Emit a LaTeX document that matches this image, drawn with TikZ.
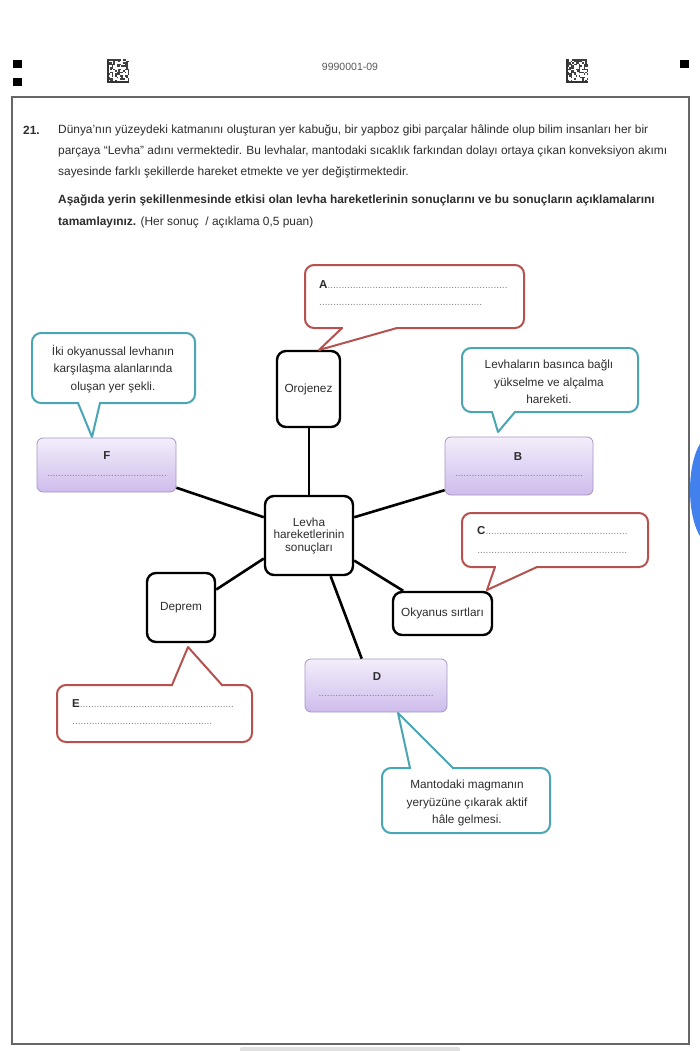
\documentclass[tikz,border=0pt]{standalone}
\usepackage{fontspec}
\setmainfont{Liberation Sans}
\usetikzlibrary{positioning}
\definecolor{callred}{RGB}{181,82,79}
\definecolor{callteal}{RGB}{74,165,181}
\definecolor{lvtop}{RGB}{243,238,251}
\definecolor{lvbot}{RGB}{206,188,236}
\definecolor{lvedge}{RGB}{165,150,195}
\definecolor{gblue}{RGB}{66,128,238}
\definecolor{yazi}{RGB}{45,45,45}
\newcommand{\blankline}[1]{\hbox to #1{\color{gray}\xleaders\hbox{.}\hfill}}
\tikzset{
sonuc/.style={draw, line width=2.4pt, rounded corners=9pt, fill=white, align=center, text=yazi,
  font=\fontsize{11.8}{12.5}\selectfont, inner sep=0pt},
cevap/.style={draw=lvedge, line width=0.8pt, rounded corners=6pt, top color=lvtop, bottom color=lvbot, inner sep=0pt},
balon/.style={draw=#1, line width=2pt, rounded corners=9pt, fill=white, inner sep=0pt},
bag/.style={line width=2.6pt},
kuyruk/.style={draw=#1, line width=2pt, line join=round},
metin/.style={anchor=west, inner sep=0pt, text=yazi, font=\fontsize{11.9}{13}\selectfont},
acik/.style={align=center, inner sep=0pt, text=yazi, font=\fontsize{11.8}{17.5}\selectfont},
harf/.style={anchor=center, inner sep=0pt, text=yazi, font=\bfseries\fontsize{11.5}{12}\selectfont},
nokta/.style={anchor=west, inner sep=0pt, font=\fontsize{10}{12}\selectfont},
}
\begin{document}
\begin{tikzpicture}[x=1pt,y=1pt,yscale=-1]
\useasboundingbox (0,0) rectangle (700,1051);
\fill[white] (0,0) rectangle (700,1051);
%Shape: page marks
\fill (13,60) rectangle (22,68);
\fill (13,78) rectangle (22,86);
\fill (680,60) rectangle (689,68);
%Shape: codes
\pgfmathsetseed{21}
\foreach \qx in {107,566}{
  \foreach \i in {0,...,13}{
    \foreach \j in {0,...,14}{
      \pgfmathtruncatemacro\qrbit{(rnd>0.5)}
      \ifnum\qrbit=1 \fill[black!75] (\qx+\i*1.6,59+\j*1.6) rectangle ++(1.6,1.6); \fi
    }
  }
  \fill[black!80] (\qx,59) rectangle ++(1.6,24);
  \fill[black!80] (\qx,81.4) rectangle ++(22.4,1.6);
}
% Text Node
\node[inner sep=0pt, text=black!65, font=\fontsize{10.5}{11}\selectfont] (kod) at (350,67) {9990001-09};
%Shape: Rectangle frame
\draw[black!60, line width=1.2pt] (12,97) rectangle (689,1044);
\fill[gblue] (712,490) ellipse [x radius=22, y radius=55];
\fill[black!12, rounded corners=2pt] (240,1047) rectangle (460,1056);

% Text Node
\node[metin, font=\bfseries\fontsize{11.9}{13}\selectfont] (s21) at (23,130) {21.};
\node[metin] (p1) at (58,130) {Dünya’nın yüzeydeki katmanını oluşturan yer kabuğu, bir yapboz gibi parçalar hâlinde olup bilim insanları her bir};
\node[metin] (p2) at (58,151) {parçaya “Levha” adını vermektedir. Bu levhalar, mantodaki sıcaklık farkından dolayı ortaya çıkan konveksiyon akımı};
\node[metin] (p3) at (58,172) {sayesinde farklı şekillerde hareket etmekte ve yer değiştirmektedir.};
\node[metin, font=\bfseries\fontsize{11.9}{13}\selectfont] (q1) at (58,200) {Aşağıda yerin şekillenmesinde etkisi olan levha hareketlerinin sonuçlarını ve bu sonuçların açıklamalarını};
\node[metin] (q2) at (58,222) {\textbf{tamamlayınız.} (Her sonuç~ / açıklama 0,5 puan)};

%Shape: result boxes
\node[sonuc, minimum width=88pt, minimum height=79pt] (merkez) at (309,535.5) {Levha\\hareketlerinin\\sonuçları};
\node[sonuc, minimum width=63pt, minimum height=76pt] (oro) at (308.5,389) {Orojenez};
\node[sonuc, minimum width=68pt, minimum height=69pt] (deprem) at (181,607.5) {Deprem};
\node[sonuc, minimum width=99pt, minimum height=43pt] (okyanus) at (442.5,613.5) {Okyanus sırtları};
\node[cevap, minimum width=139pt, minimum height=54pt] (F) at (106.5,465) {};
\node[cevap, minimum width=148pt, minimum height=58pt] (B) at (519,466) {};
\node[cevap, minimum width=142pt, minimum height=53pt] (D) at (376,685.5) {};

%Straight Lines
\draw[bag] (merkez.north) -- (merkez.north |- oro.south);
\draw[bag] (merkez.158) -- (F.-18);
\draw[bag] (merkez.22) -- (B.198);
\draw[bag] (merkez.207) -- (deprem.27);
\draw[bag] (merkez.-29) -- (okyanus.150);
\draw[bag] (merkez.-62) -- (D.118);

% Text Node
\node[harf] (Fh) at (107,456) {F};
\node[nokta, anchor=center] (Fn) at (107,476) {\blankline{120pt}};
\node[harf] (Bh) at (518,457) {B};
\node[nokta, anchor=center] (Bn) at (519,476) {\blankline{128pt}};
\node[harf] (Dh) at (377,677) {D};
\node[nokta, anchor=center] (Dn) at (376,696) {\blankline{115pt}};

%Shape: Callout A
\node[balon=callred, minimum width=219pt, minimum height=63pt] (cA) at (414.5,296.5) {};
\fill[white] (343,325) rectangle (396,331);
\draw[kuyruk=callred] (342,328) -- (319,350) -- (397,328);
\node[nokta] (tA) at (319,285) {\textbf{\fontsize{11.5}{12}\selectfont\color{yazi}A}\blankline{180pt}};
\node[nokta] (tA2) at (319,305) {\blankline{163pt}};
%Shape: Callout B
\node[balon=callteal, minimum width=176pt, minimum height=64pt] (cB) at (550,380) {};
\fill[white] (493,409) rectangle (514,415);
\draw[kuyruk=callteal] (492,412) -- (498,432) -- (515,412);
\node[acik] (tB) at (549,382) {Levhaların basınca bağlı\\yükselme ve alçalma\\hareketi.};
%Shape: Callout F
\node[balon=callteal, minimum width=163pt, minimum height=70pt] (cF) at (113.5,368) {};
\fill[white] (79,400) rectangle (99,406);
\draw[kuyruk=callteal] (78,403) -- (92,437) -- (100,403);
\node[acik] (tF) at (113,369) {İki okyanussal levhanın\\karşılaşma alanlarında\\oluşan yer şekli.};
%Shape: Callout C
\node[balon=callred, minimum width=186pt, minimum height=54pt] (cC) at (555,540) {};
\fill[white] (496,564) rectangle (536,570);
\draw[kuyruk=callred] (495,567) -- (487,590) -- (537,567);
\node[nokta] (tC) at (477,531) {\textbf{\fontsize{11.5}{12}\selectfont\color{yazi}C}\blankline{142pt}};
\node[nokta] (tC2) at (477,553) {\blankline{150pt}};
%Shape: Callout E
\node[balon=callred, minimum width=195pt, minimum height=57pt] (cE) at (154.5,713.5) {};
\fill[white] (173,682) rectangle (221,688);
\draw[kuyruk=callred] (172,685) -- (188,647) -- (222,685);
\node[nokta] (tE) at (72,704) {\textbf{\fontsize{11.5}{12}\selectfont\color{yazi}E}\blankline{154pt}};
\node[nokta] (tE2) at (72,724) {\blankline{140pt}};
%Shape: Callout D
\node[balon=callteal, minimum width=168pt, minimum height=65pt] (cD) at (466,800.5) {};
\fill[white] (411,765) rectangle (452,771);
\draw[kuyruk=callteal] (410,768) -- (398,713) -- (453,768);
\node[acik] (tD) at (467,803) {Mantodaki magmanın\\yeryüzüne çıkarak aktif\\hâle gelmesi.};
\end{tikzpicture}
\end{document}
